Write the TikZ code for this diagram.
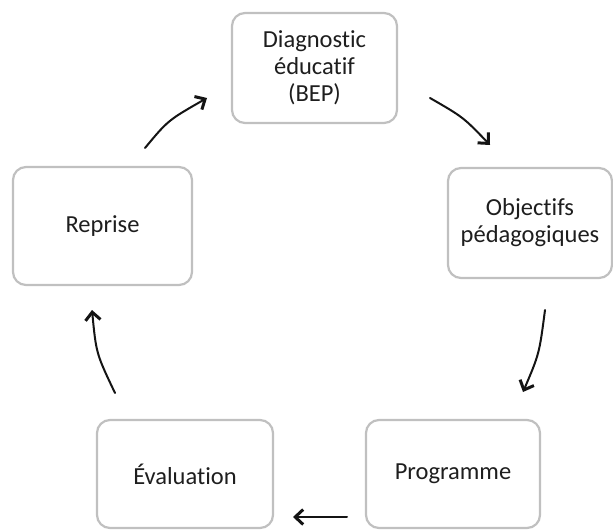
\documentclass[tikz,border=0pt]{standalone}
\usepackage{fontspec}
\setmainfont{Carlito}[Ligatures={NoCommon,NoRequired,NoContextual}]
\usetikzlibrary{arrows.meta}
\definecolor{boxline}{HTML}{C0C0C0}
\definecolor{txt}{HTML}{1E1E1E}
\definecolor{arr}{HTML}{141414}
\begin{document}
\begin{tikzpicture}[x=1bp,y=-1bp,
  stage/.style={draw=boxline, line width=2.2bp, rounded corners=13bp, fill=white,
    text=txt, align=center, inner sep=0pt,
    font=\fontsize{24.5bp}{27bp}\selectfont},
  flow/.style={draw=arr, line width=2bp, line cap=round,
    -{Straight Barb[length=8bp,width=15bp,line width=3bp]}}]
\useasboundingbox (0,0) rectangle (613,530);
\begin{scope}
\clip (0,0) rectangle (613,530);
\node[stage, minimum width=165bp, minimum height=110bp] (diag) at (314.5,68) {Diagnostic\\éducatif\\(BEP)};
\node[stage, minimum width=164bp, minimum height=110bp] (obj) at (530,223) {Objectifs\\pédagogiques};
\node[stage, minimum width=179bp, minimum height=118bp] (rep) at (102.5,226) {Reprise};
\node[stage, minimum width=174bp, minimum height=108bp] (prog) at (453,474) {Programme};
\node[stage, minimum width=176bp, minimum height=108bp] (eval) at (185,474) {Évaluation};
\end{scope}
\coordinate (a1s) at (145,148); \coordinate (a1e) at (207,98);
\coordinate (a2s) at (430,98);  \coordinate (a2e) at (490,145);
\coordinate (a3s) at (545,310); \coordinate (a3e) at (523,392);
\coordinate (a4s) at (347,517); \coordinate (a4e) at (293,517);
\coordinate (a5s) at (115,393); \coordinate (a5e) at (92,310);
\draw[flow] (a1s) .. controls (168,120.3) .. (a1e);
\draw[flow] (a2s) .. controls (463.3,117.2) .. (a2e);
\draw[flow] (a3s) .. controls (539.3,353.7) .. (a3e);
\draw[flow] (a4s) -- (a4e);
\draw[flow] (a5s) .. controls (96.2,353.5) .. (a5e);
\end{tikzpicture}
\end{document}
